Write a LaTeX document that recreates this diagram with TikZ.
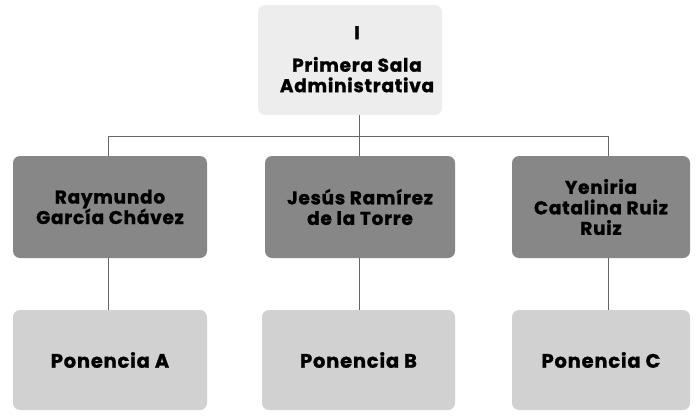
\documentclass[tikz,border=0pt]{standalone}
\usepackage{fontspec}
\setmainfont{Poppins}[UprightFont=* Bold, UprightFeatures={FakeBold=1.2, LetterSpace=4}]
\begin{document}
\begin{tikzpicture}[x=1pt,y=-1pt,
  boxbase/.style={rounded corners=7pt, inner sep=0pt, align=center, font=\fontsize{18.5}{20.5}\selectfont, text=black},
  topbox/.style={boxbase, fill=black!7, minimum width=184pt, minimum height=110pt},
  midbox/.style={boxbase, fill=black!47, minimum height=102pt},
  lowbox/.style={boxbase, fill=black!18, minimum height=100pt, font=\fontsize{19.5}{22}\selectfont},
  conn/.style={draw=black!60, line width=0.6pt}]
\useasboundingbox (0,0) rectangle (696,415);
\node[topbox] (top) at (350,60) {};
\node[boxbase, anchor=north] (toptext) at (357,26) {I\\[12pt]Primera Sala\\Administrativa};
\node[midbox, minimum width=194pt] (m1) at (110,207) {Raymundo\\García Chávez};
\node[midbox, minimum width=190pt] (m2) at (360,207) {Jesús Ramírez\\de la Torre};
\node[midbox, minimum width=178pt] (m3) at (601,207) {Yeniria\\Catalina Ruiz\\Ruiz};
\node[lowbox, minimum width=194pt] (l1) at (110,360) {Ponencia A};
\node[lowbox, minimum width=193pt] (l2) at (358.5,360) {Ponencia B};
\node[lowbox, minimum width=178pt] (l3) at (601,360) {Ponencia C};
\coordinate (hl) at (108,136);
\coordinate (hm) at (359,136);
\coordinate (hr) at (608,136);
\draw[conn] (top.south -| hm) -- (hm);
\draw[conn] (hl) -- (hr);
\draw[conn] (hl) -- (hl |- m1.north);
\draw[conn] (hm) -- (hm |- m2.north);
\draw[conn] (hr) -- (hr |- m3.north);
\draw[conn] (m1.south -| hl) -- (hl |- l1.north);
\draw[conn] (m2.south -| hm) -- (hm |- l2.north);
\draw[conn] (m3.south -| hr) -- (hr |- l3.north);
\end{tikzpicture}
\end{document}
